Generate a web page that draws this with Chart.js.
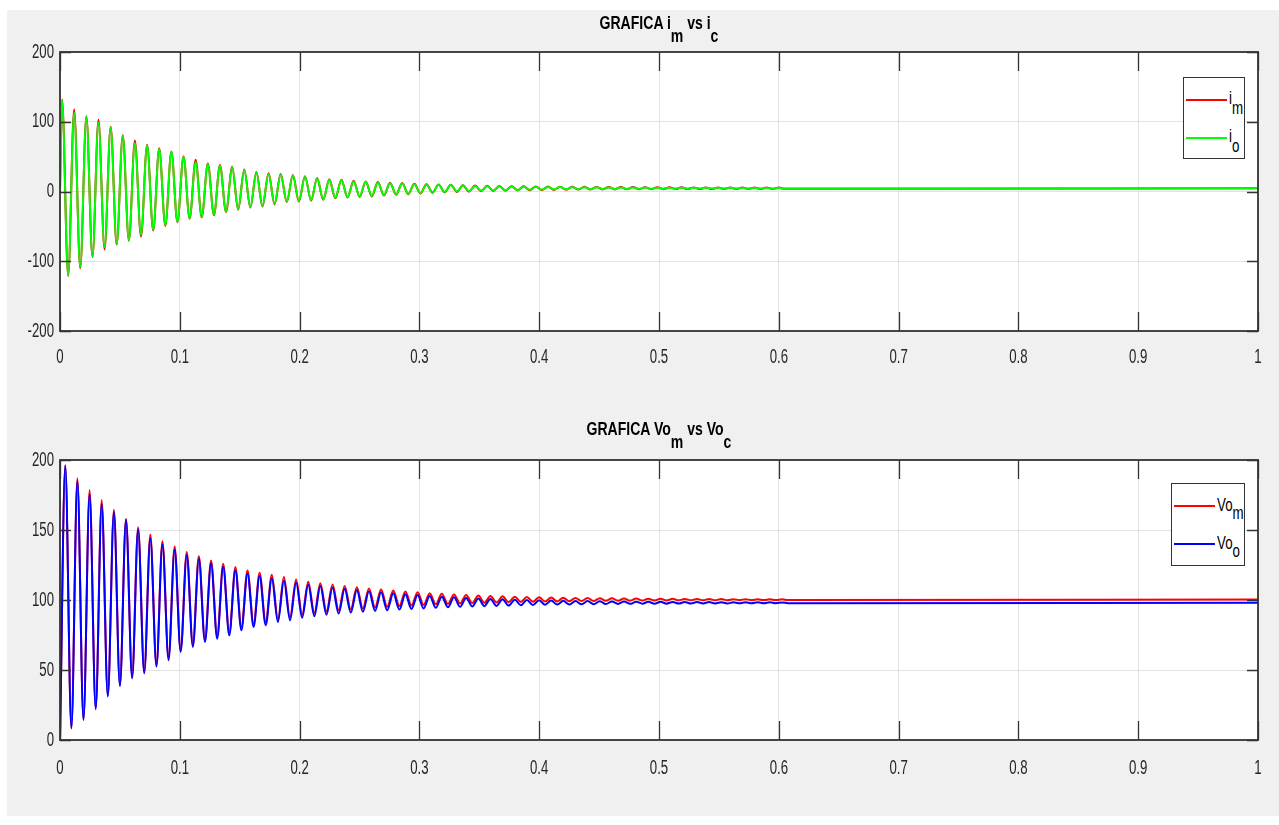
<!DOCTYPE html>
<html>
<head>
<meta charset="utf-8">
<script src="https://cdn.jsdelivr.net/npm/chart.js@4.4.1/dist/chart.umd.min.js"></script>
<style>
  body { margin: 0; background: #fff; width: 1279px; height: 825px; overflow: hidden; position: relative; }
  #bg { position: absolute; left: 7px; top: 10px; width: 1272px; height: 806px; background: #f0f0f0; }
  canvas { position: absolute; left: 0; }
  .ttl { position: absolute; left: 60px; width: 1198px; text-align: center; font: bold 18px 'Liberation Sans', Arial, sans-serif; line-height: 18px; color: #000; white-space: nowrap; transform: scaleX(0.78); transform-origin: 599px 0; }
  .sub { position: relative; }
  .leg { position: absolute; background: #fff; border: 1px solid #333; box-sizing: border-box; }
  .leg .ln { position: absolute; height: 2px; }
  .leg .tx { position: absolute; font: 19px 'Liberation Sans', Arial, sans-serif; line-height: 19px; color: #000; white-space: nowrap; transform: scaleX(0.7); transform-origin: 0 0; }
</style>
</head>
<body>
<div id="bg"></div>
<canvas id="chartTop" width="1279" height="400" style="top:0"></canvas>
<canvas id="chartBot" width="1279" height="425" style="top:400px"></canvas>

<div class="ttl" style="top:14px">GRAFICA i<span class="sub" style="top:13px">m</span> vs i<span class="sub" style="top:13px">c</span></div>
<div class="ttl" style="top:420px">GRAFICA Vo<span class="sub" style="top:13px">m</span> vs Vo<span class="sub" style="top:13px">c</span></div>

<div class="leg" style="left:1183px; top:77px; width:62px; height:82px">
  <div class="ln" style="left:2px; top:21px; width:41px; background:#ff0000"></div>
  <div class="tx" style="left:45px; top:10px">i<span class="sub" style="top:10px">m</span></div>
  <div class="ln" style="left:2px; top:59px; width:41px; background:#00ff00"></div>
  <div class="tx" style="left:45px; top:48px">i<span class="sub" style="top:10px">o</span></div>
</div>
<div class="leg" style="left:1171px; top:483px; width:74px; height:83px">
  <div class="ln" style="left:2px; top:21px; width:41px; background:#ff0000"></div>
  <div class="tx" style="left:45px; top:11px">Vo<span class="sub" style="top:8px">m</span></div>
  <div class="ln" style="left:2px; top:59px; width:41px; background:#0000ff"></div>
  <div class="tx" style="left:45px; top:49px">Vo<span class="sub" style="top:8px">o</span></div>
</div>

<script>
// tiempos de los picos / valles (s)
const tTopPeak = [0.0017, 0.0118, 0.0220, 0.0321, 0.0423, 0.0524, 0.0625, 0.0727, 0.0828, 0.0930,
  0.1031, 0.1132, 0.1234, 0.1335, 0.1437, 0.1538, 0.1639, 0.1741, 0.1842, 0.1944,
  0.2045, 0.2146, 0.2248, 0.2349, 0.2451, 0.2552, 0.2653, 0.2755, 0.2856, 0.2958,
  0.3059, 0.3160, 0.3262, 0.3363, 0.3465, 0.3566, 0.3667, 0.3769, 0.3870, 0.3972,
  0.4073, 0.4174, 0.4276, 0.4377, 0.4479, 0.4580, 0.4681, 0.4783, 0.4884, 0.4986,
  0.5087, 0.5188, 0.5290, 0.5391, 0.5493, 0.5594, 0.5695, 0.5797, 0.5898, 0.6000];
const tTopTrough = [0.0068, 0.0169, 0.0271, 0.0372, 0.0473, 0.0575, 0.0676, 0.0778, 0.0879, 0.0980,
  0.1082, 0.1183, 0.1285, 0.1386, 0.1487, 0.1589, 0.1690, 0.1791, 0.1893, 0.1994,
  0.2096, 0.2197, 0.2298, 0.2400, 0.2501, 0.2603, 0.2704, 0.2806, 0.2907, 0.3008,
  0.3110, 0.3211, 0.3313, 0.3414, 0.3515, 0.3617, 0.3718, 0.3820, 0.3921, 0.4022,
  0.4124, 0.4225, 0.4327, 0.4428, 0.4529, 0.4631, 0.4732, 0.4834, 0.4935, 0.5036,
  0.5138, 0.5239, 0.5341, 0.5442, 0.5543, 0.5645, 0.5746, 0.5848, 0.5949, 0.6050];
const tBotPeak = [0.0044, 0.0145, 0.0247, 0.0348, 0.0450, 0.0551, 0.0652, 0.0754, 0.0855, 0.0957,
  0.1058, 0.1159, 0.1261, 0.1362, 0.1464, 0.1565, 0.1666, 0.1768, 0.1869, 0.1971,
  0.2072, 0.2173, 0.2275, 0.2376, 0.2478, 0.2579, 0.2680, 0.2782, 0.2883, 0.2985,
  0.3086, 0.3187, 0.3289, 0.3390, 0.3492, 0.3593, 0.3694, 0.3796, 0.3897, 0.3999,
  0.4100, 0.4201, 0.4303, 0.4404, 0.4506, 0.4607, 0.4708, 0.4810, 0.4911, 0.5013,
  0.5114, 0.5215, 0.5317, 0.5418, 0.5520, 0.5621, 0.5722, 0.5824, 0.5925, 0.6027];
const tBotTrough = [0.0095, 0.0196, 0.0298, 0.0399, 0.0500, 0.0602, 0.0703, 0.0805, 0.0906, 0.1007,
  0.1109, 0.1210, 0.1312, 0.1413, 0.1514, 0.1616, 0.1717, 0.1819, 0.1920, 0.2021,
  0.2123, 0.2224, 0.2326, 0.2427, 0.2528, 0.2630, 0.2731, 0.2833, 0.2934, 0.3035,
  0.3137, 0.3238, 0.3340, 0.3441, 0.3542, 0.3644, 0.3745, 0.3847, 0.3948, 0.4049,
  0.4151, 0.4252, 0.4354, 0.4455, 0.4556, 0.4658, 0.4759, 0.4861, 0.4962, 0.5063,
  0.5165, 0.5266, 0.5368, 0.5469, 0.5570, 0.5672, 0.5773, 0.5875, 0.5976, 0.6077];

// corrientes i_m (rojo) e i_o (verde)
const imPeak = [132, 118, 108, 103, 93, 80.5, 73, 67, 62, 57.5,
  50.5, 45.5, 40, 38, 35.5, 31.5, 28, 26, 25, 23.5,
  22, 19.5, 17.5, 17, 15.5, 14.5, 13.5, 12.6, 12.1, 11.1,
  10.4, 10.2, 9.8, 9.1, 8.6, 8.2, 8.0, 7.7, 7.5, 7.3,
  7.1, 6.9, 6.8, 6.7, 6.6, 6.5, 6.4, 6.3, 6.2, 6.1,
  6.0, 5.95, 5.9, 5.85, 5.8, 5.75, 5.7, 5.65, 5.6, 5.6];
const imTrough = [-121, -110, -94, -83, -76, -70.5, -64.5, -56, -49.3, -44,
  -39, -37, -34, -29.5, -26, -23, -21.5, -18.5, -15, -14.2,
  -13.2, -11.8, -9.6, -8.6, -7.8, -7.1, -5.8, -4.6, -3.8, -2.8,
  -1.8, -1.2, -0.6, -0.1, 0.4, 0.8, 1.2, 1.5, 1.8, 2.1,
  2.3, 2.5, 2.7, 2.8, 2.9, 3.0, 3.1, 3.2, 3.3, 3.4,
  3.45, 3.5, 3.55, 3.6, 3.65, 3.7, 3.7, 3.75, 3.8, 3.8];
const ioPeak = [131, 113, 107, 99, 92, 80, 69, 66, 61, 57,
  50, 42, 39, 37, 35, 31, 27, 25, 24.5, 23,
  21, 18.5, 16.8, 16, 14.5, 14, 13, 12, 11.5, 10.5,
  9.8, 9.6, 9.2, 8.5, 8, 7.6, 7.4, 7.1, 6.9, 6.7,
  6.5, 6.3, 6.2, 6.1, 6.0, 5.9, 5.8, 5.7, 5.6, 5.5,
  5.45, 5.4, 5.35, 5.3, 5.25, 5.2, 5.15, 5.1, 5.1, 5.05];
const ioTrough = [-120, -108.6, -93.3, -80, -75, -70, -62, -55, -48, -43,
  -38.3, -36, -33.5, -28.7, -25.4, -22.5, -20.6, -17.7, -14.4, -13.5,
  -12.5, -11, -9, -8, -7.2, -6.5, -5.2, -4.0, -3.2, -2.2,
  -1.2, -0.6, 0, 0.5, 1.0, 1.4, 1.8, 2.1, 2.4, 2.7,
  2.9, 3.1, 3.3, 3.4, 3.5, 3.6, 3.7, 3.8, 3.9, 4.0,
  4.05, 4.1, 4.15, 4.2, 4.25, 4.3, 4.3, 4.35, 4.4, 4.4];
const imEnd = 4.7, ioEnd = 4.6;

// tensiones Vo_m (rojo) y Vo_o (azul)
const vomPeak = [196.2, 186.9, 178.6, 171.4, 164.4, 158.0, 152.0, 146.8, 142.0, 138.2,
  134.2, 131.4, 128.3, 125.9, 123.5, 121.1, 119.5, 118.1, 116.4, 114.7,
  113.1, 111.9, 111.0, 110.0, 109.1, 108.3, 107.5, 106.8, 106.1, 105.5,
  104.9, 104.4, 104.0, 103.6, 103.2, 102.9, 102.6, 102.4, 102.2, 102.0,
  101.8, 101.6, 101.5, 101.4, 101.3, 101.2, 101.1, 101.0, 100.95, 100.9,
  100.85, 100.8, 100.75, 100.7, 100.65, 100.6, 100.6, 100.55, 100.55, 100.5];
const vomTrough = [8.5, 15, 23, 32, 39.5, 45.5, 49, 54, 59, 64.5,
  68, 71.5, 74, 76.5, 80, 82.5, 84, 86, 87.5, 89.3,
  90.6, 91.7, 92.6, 93.3, 94.0, 94.6, 95.1, 95.6, 96.1, 96.5,
  96.9, 97.2, 97.5, 97.8, 98.0, 98.2, 98.4, 98.6, 98.7, 98.9,
  99.0, 99.1, 99.2, 99.3, 99.4, 99.5, 99.55, 99.6, 99.65, 99.7,
  99.75, 99.8, 99.8, 99.85, 99.85, 99.9, 99.9, 99.95, 99.95, 100.0];
const vooPeak = [196.0, 185.0, 175.8, 168.6, 162.8, 157.3, 150.6, 144.2, 139.9, 136.0,
  132.2, 129.5, 126.2, 123.7, 121.2, 119.0, 117.2, 115.6, 114.0, 112.5,
  111.1, 110.0, 109.0, 108.0, 107.1, 106.3, 105.5, 104.8, 104.1, 103.5,
  102.9, 102.4, 101.9, 101.5, 101.1, 100.8, 100.5, 100.2, 100.0, 99.8,
  99.6, 99.4, 99.3, 99.2, 99.1, 99.0, 98.9, 98.8, 98.75, 98.7,
  98.65, 98.6, 98.55, 98.5, 98.45, 98.4, 98.4, 98.35, 98.35, 98.3];
const vooTrough = [8.3, 14.3, 21.9, 31, 38.5, 44, 47.6, 52.4, 57, 63,
  66.5, 70, 72.4, 74.8, 78.4, 80.8, 82, 84.3, 85.5, 87.3,
  88.5, 89.5, 90.3, 91.0, 91.6, 92.2, 92.7, 93.2, 93.6, 94.0,
  94.4, 94.8, 95.1, 95.4, 95.6, 95.8, 96.0, 96.2, 96.4, 96.6,
  96.7, 96.8, 96.9, 97.0, 97.1, 97.2, 97.25, 97.3, 97.35, 97.4,
  97.45, 97.5, 97.5, 97.55, 97.55, 97.6, 97.6, 97.65, 97.65, 97.7];
const vomEnd = 100.3, vooEnd = 98.0;

const xEnd = 1;

// picos y valles intercalados, empieza en (0,0)
function buildSeries(tPk, pk, tTr, tr, endVal) {
  const pts = [{ x: 0, y: 0 }];
  for (let i = 0; i < pk.length; i++) {
    pts.push({ x: tPk[i], y: pk[i] });
    pts.push({ x: tTr[i], y: tr[i] });
  }
  pts.push({ x: xEnd, y: endVal });
  return pts;
}

function fmtTick(v) { return String(+v.toFixed(1)); }

// texto estrecho tipo matlab (la fuente helvetica narrow no esta)
function narrowText(ctx, txt, x, y, align) {
  ctx.save();
  ctx.translate(x, y);
  ctx.scale(0.66, 1);
  ctx.textAlign = align;
  ctx.textBaseline = 'middle';
  ctx.fillText(txt, 0, 0);
  ctx.restore();
}

// ejes estilo matlab: fondo blanco, caja, ticks hacia adentro y etiquetas
const matlabAxes = {
  id: 'matlabAxes',
  beforeDraw(chart) {
    const a = chart.chartArea, ctx = chart.ctx;
    ctx.save();
    ctx.fillStyle = '#ffffff';
    ctx.fillRect(a.left, a.top, a.right - a.left, a.bottom - a.top);
    ctx.restore();
  },
  afterDraw(chart, args, opts) {
    const a = chart.chartArea, ctx = chart.ctx;
    const xs = chart.scales.x, ys = chart.scales.y;
    ctx.save();
    ctx.strokeStyle = '#333333';
    ctx.lineWidth = 1.3;
    ctx.beginPath();
    xs.ticks.forEach(t => {
      const px = Math.round(xs.getPixelForValue(t.value)) + 0.5;
      ctx.moveTo(px, a.bottom); ctx.lineTo(px, a.bottom - 19);
      ctx.moveTo(px, a.top); ctx.lineTo(px, a.top + 19);
    });
    ys.ticks.forEach(t => {
      const py = Math.round(ys.getPixelForValue(t.value)) + 0.5;
      ctx.moveTo(a.left, py); ctx.lineTo(a.left + 11, py);
      ctx.moveTo(a.right, py); ctx.lineTo(a.right - 11, py);
    });
    ctx.stroke();
    ctx.lineWidth = 1.8;
    ctx.strokeRect(a.left, a.top, a.right - a.left, a.bottom - a.top);

    ctx.fillStyle = '#262626';
    ctx.font = "20px 'Liberation Sans', Arial, sans-serif";
    xs.ticks.forEach(t => {
      narrowText(ctx, fmtTick(t.value), xs.getPixelForValue(t.value), a.bottom + opts.xLabelGap, 'center');
    });
    ys.ticks.forEach(t => {
      narrowText(ctx, String(t.value), a.left - 6, ys.getPixelForValue(t.value), 'right');
    });
    ctx.restore();
  }
};

function makeChart(id, datasets, yMin, yMax, yStep, padTop, xAxisH, xLabelGap) {
  return new Chart(document.getElementById(id), {
    type: 'line',
    data: { datasets: datasets },
    options: {
      responsive: false,
      animation: false,
      events: [],
      layout: { padding: { top: padTop, right: 21, left: 0, bottom: 0 } },
      elements: {
        point: { radius: 0 },
        line: { borderWidth: 2, cubicInterpolationMode: 'monotone' }
      },
      plugins: {
        legend: { display: false },
        tooltip: { enabled: false },
        matlabAxes: { xLabelGap: xLabelGap }
      },
      scales: {
        x: {
          type: 'linear', min: 0, max: 1,
          ticks: { stepSize: 0.1, display: false, autoSkip: false },
          grid: { color: '#e2e2e2', drawTicks: false },
          border: { display: false },
          afterFit: s => { s.height = xAxisH; }
        },
        y: {
          min: yMin, max: yMax,
          ticks: { stepSize: yStep, display: false },
          grid: { color: '#e2e2e2', drawTicks: false },
          border: { display: false },
          afterFit: s => { s.width = 60; }
        }
      }
    },
    plugins: [matlabAxes]
  });
}

makeChart('chartTop', [
  { label: 'i_o', data: buildSeries(tTopPeak, ioPeak, tTopTrough, ioTrough, ioEnd), borderColor: '#00ff00' },
  { label: 'i_m', data: buildSeries(tTopPeak, imPeak, tTopTrough, imTrough, imEnd), borderColor: '#ff0000' }
], -200, 200, 100, 52, 69, 26);

makeChart('chartBot', [
  { label: 'Vo_o', data: buildSeries(tBotPeak, vooPeak, tBotTrough, vooTrough, vooEnd), borderColor: '#0000ff' },
  { label: 'Vo_m', data: buildSeries(tBotPeak, vomPeak, tBotTrough, vomTrough, vomEnd), borderColor: '#ff0000' }
], 0, 200, 50, 60, 85, 28);
</script>
</body>
</html>
